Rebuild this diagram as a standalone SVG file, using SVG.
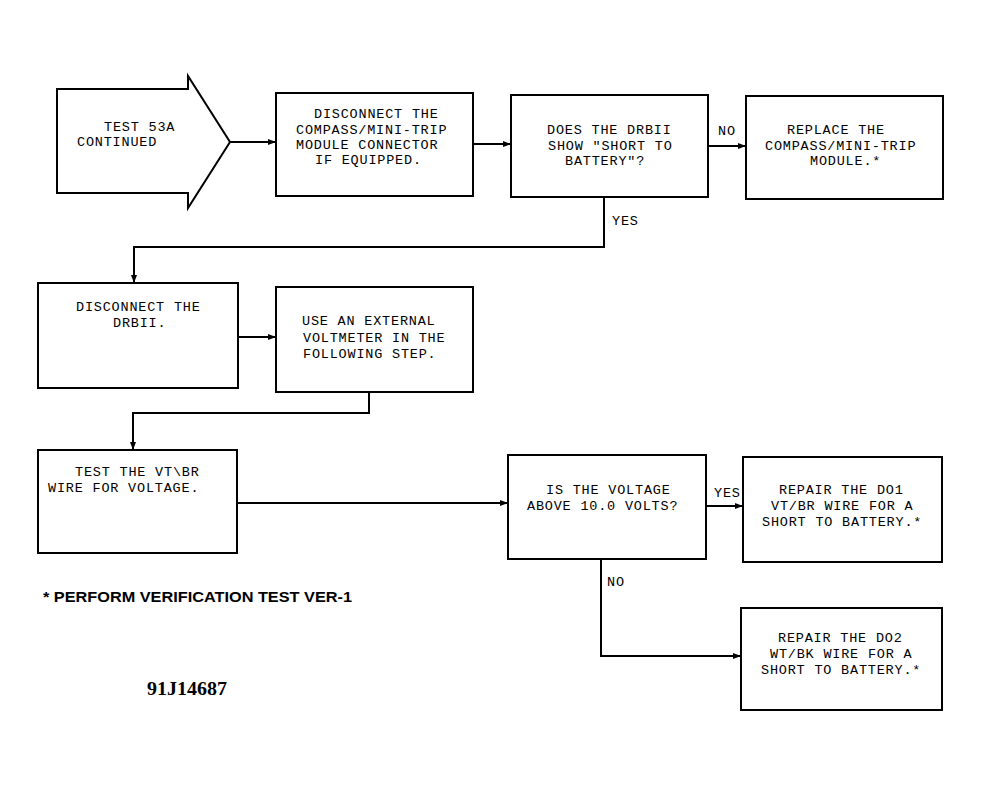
<svg xmlns="http://www.w3.org/2000/svg" width="981" height="787" viewBox="0 0 981 787">
<style>
.box{fill:#fff;stroke:#000;stroke-width:2}
.t{font-family:"Liberation Mono","DejaVu Sans Mono",monospace;font-size:13.5px;letter-spacing:0.8px;fill:#000}
.c{fill:none;stroke:#000;stroke-width:2}
.note{font-family:"Liberation Sans",Arial,sans-serif;font-weight:bold;font-size:15px;fill:#000}
.code{font-family:"Liberation Serif","Times New Roman",serif;font-weight:bold;font-size:19px;fill:#000}
</style>
<defs>
<marker id="ah" markerWidth="8" markerHeight="6" refX="8" refY="3" orient="auto" markerUnits="userSpaceOnUse">
<path d="M0,0 L8,3 L0,6 Z" fill="#000"/>
</marker>
</defs>
<rect width="981" height="787" fill="#fff"/>
<g id="connectors">
<line class="c" x1="230" y1="142" x2="276" y2="142" marker-end="url(#ah)"/>
<line class="c" x1="473" y1="144" x2="511" y2="144" marker-end="url(#ah)"/>
<line class="c" x1="708" y1="146" x2="746" y2="146" marker-end="url(#ah)"/>
<polyline class="c" points="604,197 604,247 134,247 134,283" marker-end="url(#ah)"/>
<line class="c" x1="238" y1="337" x2="276" y2="337" marker-end="url(#ah)"/>
<polyline class="c" points="369,392 369,413 133,413 133,450" marker-end="url(#ah)"/>
<line class="c" x1="237" y1="503" x2="508" y2="503" marker-end="url(#ah)"/>
<line class="c" x1="706" y1="506" x2="743" y2="506" marker-end="url(#ah)"/>
<polyline class="c" points="601,559 601,656 741,656" marker-end="url(#ah)"/>
<text class="t" x="718" y="135">NO</text>
<text class="t" x="612" y="225">YES</text>
<text class="t" x="714" y="497">YES</text>
<text class="t" x="607" y="586">NO</text>
</g>
<g id="start">
<path class="box" d="M57,89 L188,89 L188,76 L230,142 L188,208 L188,193 L57,193 Z"/>
<text class="t" x="104" y="131">TEST 53A</text>
<text class="t" x="77" y="146">CONTINUED</text>
</g>
<g id="disconnect-compass">
<rect class="box" x="276" y="93" width="197" height="103"/>
<text class="t" x="314" y="118">DISCONNECT THE</text>
<text class="t" x="296" y="134">COMPASS/MINI-TRIP</text>
<text class="t" x="296" y="149">MODULE CONNECTOR</text>
<text class="t" x="315" y="164">IF EQUIPPED.</text>
</g>
<g id="does-drbii-show">
<rect class="box" x="511" y="95" width="197" height="102"/>
<text class="t" x="547" y="134">DOES THE DRBII</text>
<text class="t" x="548" y="150">SHOW "SHORT TO</text>
<text class="t" x="565" y="165">BATTERY"?</text>
</g>
<g id="replace-module">
<rect class="box" x="746" y="96" width="197" height="103"/>
<text class="t" x="787" y="134">REPLACE THE</text>
<text class="t" x="765" y="150">COMPASS/MINI-TRIP</text>
<text class="t" x="810" y="165">MODULE.*</text>
</g>
<g id="disconnect-drbii">
<rect class="box" x="38" y="283" width="200" height="105"/>
<text class="t" x="76" y="311">DISCONNECT THE</text>
<text class="t" x="113" y="327">DRBII.</text>
</g>
<g id="use-voltmeter">
<rect class="box" x="276" y="287" width="197" height="105"/>
<text class="t" x="302" y="325">USE AN EXTERNAL</text>
<text class="t" x="303" y="342">VOLTMETER IN THE</text>
<text class="t" x="303" y="358">FOLLOWING STEP.</text>
</g>
<g id="test-wire">
<rect class="box" x="38" y="450" width="199" height="103"/>
<text class="t" x="75" y="476">TEST THE VT\BR</text>
<text class="t" x="48" y="492">WIRE FOR VOLTAGE.</text>
</g>
<g id="is-voltage">
<rect class="box" x="508" y="455" width="198" height="104"/>
<text class="t" x="546" y="494">IS THE VOLTAGE</text>
<text class="t" x="527" y="510">ABOVE 10.0 VOLTS?</text>
</g>
<g id="repair-do1">
<rect class="box" x="743" y="457" width="199" height="105"/>
<text class="t" x="779" y="494">REPAIR THE DO1</text>
<text class="t" x="771" y="510">VT/BR WIRE FOR A</text>
<text class="t" x="762" y="526">SHORT TO BATTERY.*</text>
</g>
<g id="repair-do2">
<rect class="box" x="741" y="608" width="201" height="102"/>
<text class="t" x="778" y="642">REPAIR THE DO2</text>
<text class="t" x="770" y="658">WT/BK WIRE FOR A</text>
<text class="t" x="761" y="674">SHORT TO BATTERY.*</text>
</g>
<g id="notes">
<text class="note" x="43" y="602" textLength="309" lengthAdjust="spacingAndGlyphs">* PERFORM VERIFICATION TEST VER-1</text>
<text class="code" x="147" y="695" textLength="80" lengthAdjust="spacingAndGlyphs">91J14687</text>
</g>
</svg>
